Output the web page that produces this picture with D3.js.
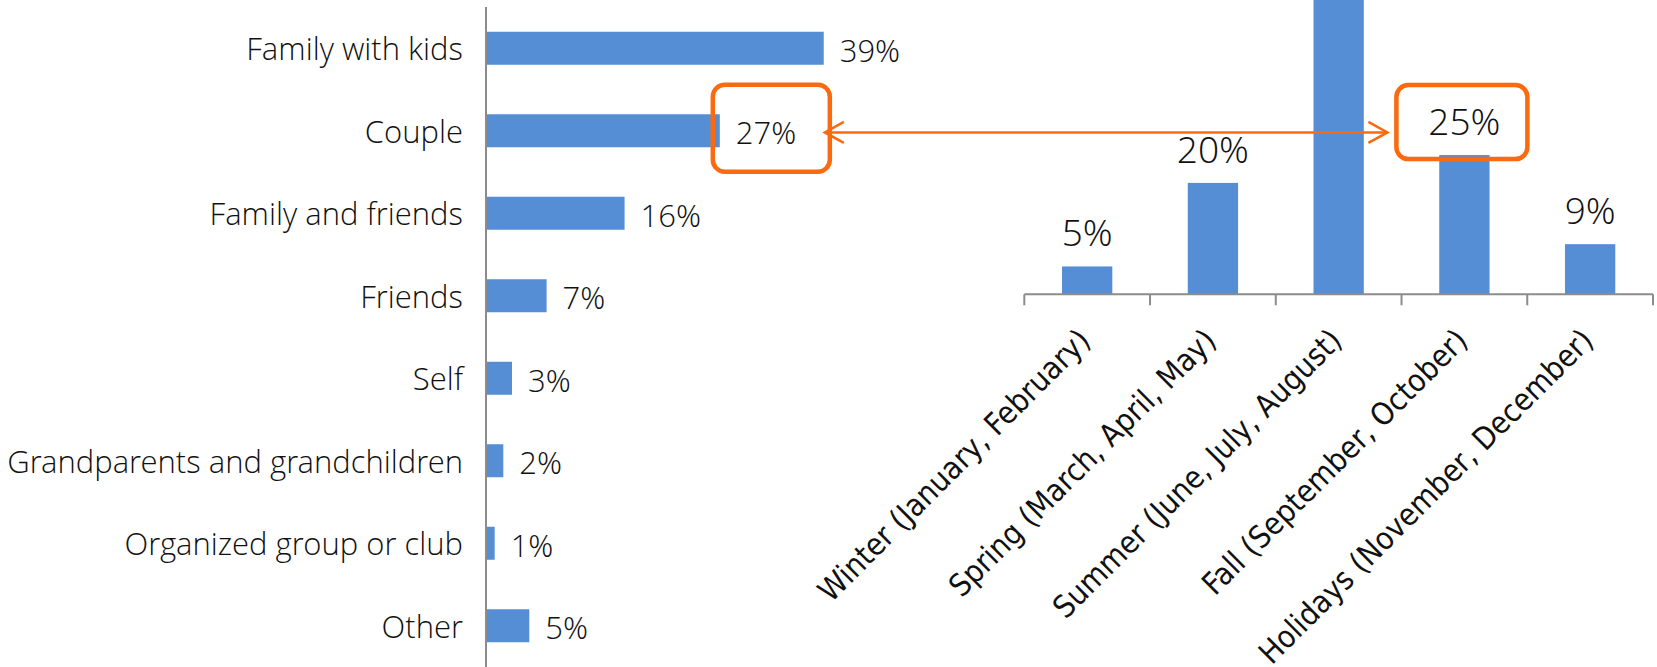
<!DOCTYPE html>
<html>
<head>
<meta charset="utf-8">
<script src="https://cdn.jsdelivr.net/npm/d3@7"></script>
<style>
  body { margin: 0; background: #fff; }
  svg { display: block; }
</style>
</head>
<body>
<svg class="chart" width="1657" height="667"></svg>
<script>
// who travels (left chart)
const groups = ["Family with kids", "Couple", "Family and friends", "Friends", "Self",
                "Grandparents and grandchildren", "Organized group or club", "Other"];
const groupShares = [39, 27, 16, 7, 3, 2, 1, 5];

// when they travel (right chart) - summer bar runs off the top of the picture
const seasons = ["Winter (January, February)", "Spring (March, April, May)",
                 "Summer (June, July, August)", "Fall (September, October)",
                 "Holidays (November, December)"];
const seasonShares = [5, 20, 60, 25, 9];

const barColor = "#558ed5";
const axisColor = "#8c8c8c";
const orange = "#fb6a0e";
const labelFont = "'Open Sans Light', 'Lato Light', 'Open Sans', sans-serif";

const svg = d3.select(".chart");

function lightText(sel) {
    sel.style("font-family", labelFont)
       .style("font-weight", 300)
       .style("fill", "#111");
}

// ---------- left: horizontal bars ----------
const xL = d3.scaleLinear().domain([0, 40]).range([486, 832.4]);
const yL = d3.scaleBand().domain(groups).range([7, 667]).paddingInner(0.6).paddingOuter(0.3);

const left = svg.append("g");

left.selectAll("rect")
    .data(groups)
    .enter()
    .append("rect")
    .attr("x", xL(0))
    .attr("y", d => yL(d))
    .attr("width", (d, i) => xL(groupShares[i]) - xL(0))
    .attr("height", yL.bandwidth())
    .attr("fill", barColor);

left.append("line")
    .attr("x1", xL(0)).attr("x2", xL(0))
    .attr("y1", 7).attr("y2", 667)
    .attr("stroke", axisColor)
    .attr("stroke-width", 2);

left.selectAll(".cat")
    .data(groups)
    .enter()
    .append("text")
    .attr("class", "cat")
    .attr("x", xL(0) - 23)
    .attr("y", d => yL(d) + yL.bandwidth() / 2)
    .attr("dy", "0.39em")
    .attr("text-anchor", "end")
    .style("font-size", "31px")
    .call(lightText)
    .text(d => d);

left.selectAll(".val")
    .data(groups)
    .enter()
    .append("text")
    .attr("class", "val")
    .attr("x", (d, i) => xL(groupShares[i]) + 16)
    .attr("y", d => yL(d) + yL.bandwidth() / 2)
    .attr("dy", "0.44em")
    .style("font-size", "31px")
    .call(lightText)
    .text((d, i) => groupShares[i] + "%");

// ---------- right: vertical bars ----------
const xR = d3.scaleBand().domain(seasons).range([1024.3, 1653]).paddingInner(0.6).paddingOuter(0.3);
const yR = d3.scaleLinear().domain([0, 50]).range([294.3, 15.8]);

const right = svg.append("g");

right.selectAll("rect")
    .data(seasons)
    .enter()
    .append("rect")
    .attr("x", d => xR(d))
    .attr("y", (d, i) => yR(seasonShares[i]))
    .attr("width", xR.bandwidth())
    .attr("height", (d, i) => yR(0) - yR(seasonShares[i]))
    .attr("fill", barColor);

// axis line with ticks between categories
right.append("line")
    .attr("x1", 1024.3).attr("x2", 1653)
    .attr("y1", yR(0)).attr("y2", yR(0))
    .attr("stroke", axisColor)
    .attr("stroke-width", 2);

right.selectAll(".tick")
    .data(d3.range(seasons.length + 1))
    .enter()
    .append("line")
    .attr("class", "tick")
    .attr("x1", i => 1024.3 + i * xR.step())
    .attr("x2", i => 1024.3 + i * xR.step())
    .attr("y1", yR(0))
    .attr("y2", yR(0) + 11)
    .attr("stroke", axisColor)
    .attr("stroke-width", 2);

// value labels; the summer one would sit above the picture, so skip it
const seasonLabels = seasons
    .map((d, i) => ({ name: d, value: seasonShares[i] }))
    .filter(d => yR(d.value) - 20 > 30);

right.selectAll(".val")
    .data(seasonLabels)
    .enter()
    .append("text")
    .attr("class", "val")
    .attr("x", d => xR(d.name) + xR.bandwidth() / 2)
    .attr("y", d => yR(d.value) - 20)
    .attr("text-anchor", "middle")
    .style("font-size", "37px")
    .call(lightText)
    .text(d => d.value + "%");

right.selectAll(".cat")
    .data(seasons)
    .enter()
    .append("text")
    .attr("class", "cat")
    .attr("transform", d => `translate(${xR(d) + xR.bandwidth() / 2 + 5},${yR(0) + 48}) rotate(-45)`)
    .attr("text-anchor", "end")
    .style("font-family", "'DejaVu Sans Condensed', 'DejaVu Sans', Tahoma, sans-serif")
    .style("font-stretch", "condensed")
    .style("font-size", "31px")
    .style("fill", "#111")
    .text(d => d);

// ---------- annotation: boxes and double arrow ----------
const coupleMid = yL("Couple") + yL.bandwidth() / 2;
const fallX = xR("Fall (September, October)") + xR.bandwidth() / 2;
const fallTop = yR(25);

const ann = svg.append("g")
    .attr("fill", "none")
    .attr("stroke", orange);

ann.append("rect")
    .attr("x", xL(27) - 7).attr("y", coupleMid - 46)
    .attr("width", 117).attr("height", 87)
    .attr("rx", 12)
    .attr("stroke-width", 4.5);

ann.append("rect")
    .attr("x", fallX - 68).attr("y", fallTop - 70)
    .attr("width", 131).attr("height", 74)
    .attr("rx", 12)
    .attr("stroke-width", 4.5);

const ay = coupleMid + 1.7;
const ax1 = xL(27) + 105, ax2 = fallX - 77;
ann.append("line")
    .attr("x1", ax1).attr("x2", ax2)
    .attr("y1", ay).attr("y2", ay)
    .attr("stroke-width", 2.5);
ann.append("path")
    .attr("d", `M${ax1 + 19},${ay - 10.5} L${ax1},${ay} L${ax1 + 19},${ay + 10.5}`)
    .attr("stroke-width", 2.5);
ann.append("path")
    .attr("d", `M${ax2 - 19},${ay - 10.5} L${ax2},${ay} L${ax2 - 19},${ay + 10.5}`)
    .attr("stroke-width", 2.5);
</script>
</body>
</html>
